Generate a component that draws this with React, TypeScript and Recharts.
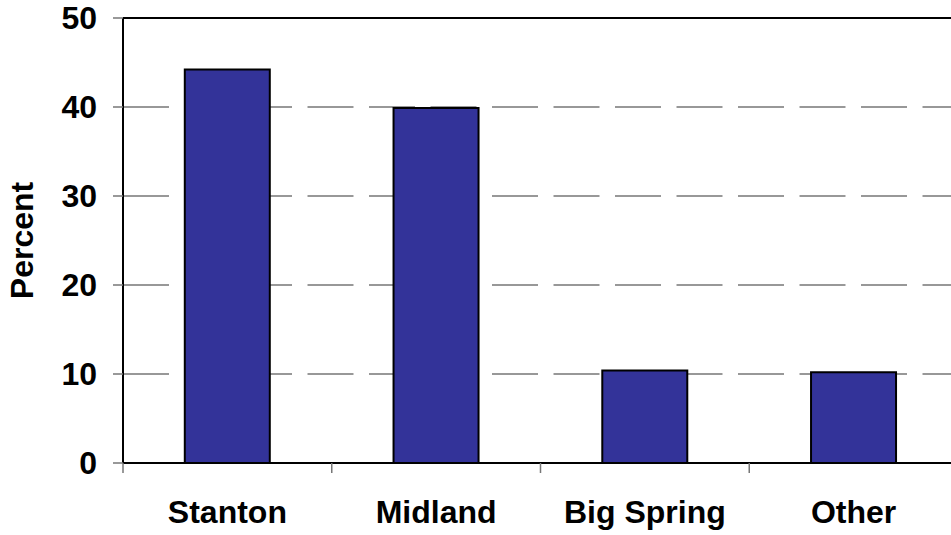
import { BarChart, Bar, XAxis, YAxis, CartesianGrid, ReferenceLine } from 'recharts';

const categories = ['Stanton', 'Midland', 'Big Spring', 'Other'];
const percents = [44.2, 39.9, 10.4, 10.2];
const yTicks = [0, 10, 20, 30, 40, 50];

const data = categories.map((name, i) => ({ name, value: percents[i] }));

const FONT = '"Liberation Sans", Arial, sans-serif';
const FONT_SIZE = 32;

// category label plus a tick mark on the left boundary of each band
const XTick = (props: any) => {
  const { x, y, payload } = props;
  const half = payload && payload.offset ? payload.offset : 104;
  return (
    <g>
      <line x1={x - half} y1={y - 10} x2={x - half} y2={y} stroke="#777" strokeWidth={1.5} />
      <text
        x={x}
        y={y + 50}
        textAnchor="middle"
        fontFamily={FONT}
        fontWeight="bold"
        fontSize={FONT_SIZE}
        fill="#000"
      >
        {payload.value}
      </text>
    </g>
  );
};

const YLabel = (props: any) => {
  const vb = props.viewBox || { x: 0, y: 18, height: 445 };
  const cx = vb.x + 33;
  const cy = vb.y + vb.height / 2;
  return (
    <text
      x={cx}
      y={cy}
      transform={`rotate(-90, ${cx}, ${cy})`}
      textAnchor="middle"
      fontFamily={FONT}
      fontWeight="bold"
      fontSize={FONT_SIZE}
      fill="#000"
    >
      Percent
    </text>
  );
};

const App = () => {
  return (
    <div
      style={{
        position: 'fixed',
        left: 0,
        top: 0,
        width: 951,
        height: 535,
        overflow: 'hidden',
        background: '#fff',
      }}
    >
      <BarChart
        width={960}
        height={535}
        data={data}
        margin={{ top: 18, right: 2, bottom: 0, left: 0 }}
        barCategoryGap="29.6%"
      >
        <CartesianGrid
          horizontal={true}
          vertical={false}
          stroke="#777"
          strokeWidth={1.5}
          strokeDasharray="46 15.5"
        />
        <XAxis
          dataKey="name"
          height={72}
          interval={0}
          tickLine={false}
          tickSize={10}
          tickMargin={0}
          axisLine={{ stroke: '#000', strokeWidth: 2 }}
          tick={<XTick />}
        />
        <YAxis
          width={123}
          domain={[0, 50]}
          ticks={yTicks}
          interval={0}
          tickSize={10}
          tickMargin={16}
          tickLine={{ stroke: '#777', strokeWidth: 1.5 }}
          axisLine={{ stroke: '#000', strokeWidth: 2 }}
          tick={{ fontFamily: FONT, fontWeight: 'bold', fontSize: FONT_SIZE, fill: '#000' }}
          label={<YLabel />}
        />
        <ReferenceLine y={50} stroke="#000" strokeWidth={2} />
        <Bar
          dataKey="value"
          fill="#333399"
          stroke="#000"
          strokeWidth={2}
          isAnimationActive={false}
        />
      </BarChart>
    </div>
  );
};

export default App;
